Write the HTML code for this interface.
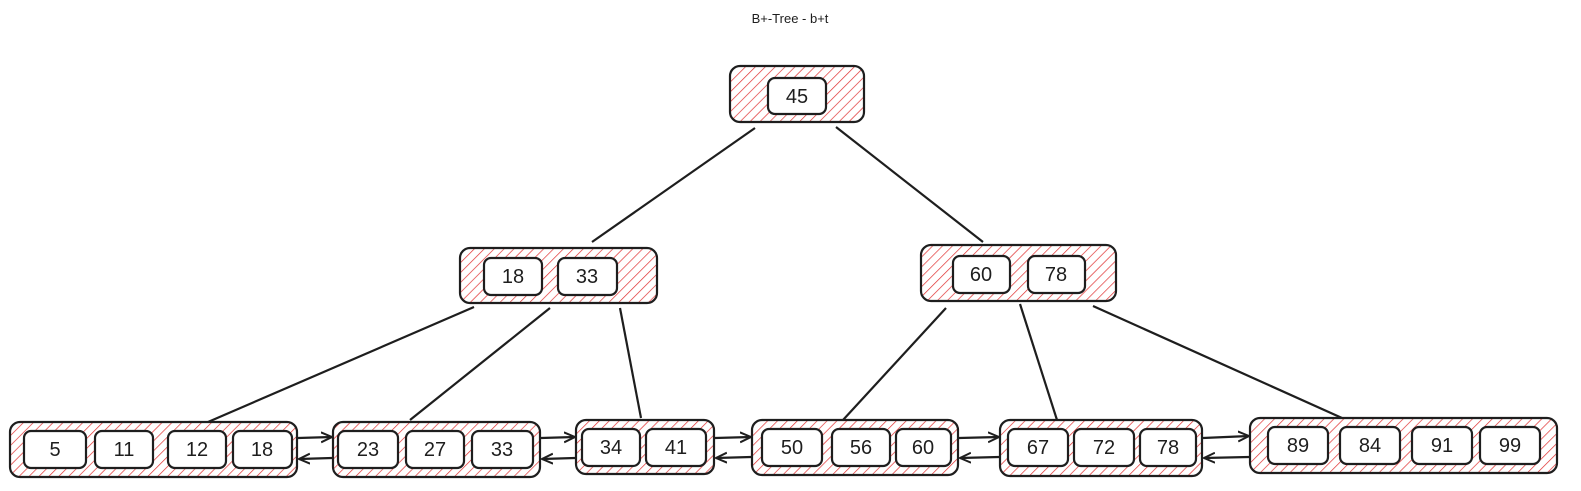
<!DOCTYPE html>
<html><head><style>body{margin:0;background:#fff}svg{display:block}text{font-family:"Liberation Sans",sans-serif;fill:#1e1e1e}</style></head>
<body>
<svg width="1581" height="491" viewBox="0 0 1581 491" xmlns="http://www.w3.org/2000/svg">
<defs>
<pattern id="h" width="7" height="7" patternUnits="userSpaceOnUse" patternTransform="rotate(45)">
<line x1="0" y1="0" x2="0" y2="7" stroke="#e03131" stroke-width="1.4"/>
</pattern>
<marker id="a" markerWidth="12" markerHeight="12" refX="11" refY="6" orient="auto" markerUnits="userSpaceOnUse">
<path d="M0,1 L11,6 L0,11" fill="none" stroke="#1e1e1e" stroke-width="2"/>
</marker>
</defs>
<text x="790" y="23" font-size="13" text-anchor="middle">B+-Tree - b+t</text>
<g stroke="#1e1e1e" stroke-width="2.2" fill="none">
<line x1="755" y1="128" x2="592" y2="242"/>
<line x1="836" y1="127" x2="983" y2="242"/>
<line x1="474" y1="307" x2="208" y2="422"/>
<line x1="550" y1="308" x2="410" y2="420"/>
<line x1="620" y1="308" x2="641" y2="418"/>
<line x1="946" y1="308" x2="843" y2="420"/>
<line x1="1020" y1="304" x2="1057" y2="420"/>
<line x1="1093" y1="306" x2="1342" y2="418"/>
<g marker-end="url(#a)">
<line x1="298" y1="438" x2="332" y2="437"/><line x1="332" y1="458" x2="299" y2="459"/>
<line x1="541" y1="438" x2="575" y2="437"/><line x1="575" y1="458" x2="542" y2="459"/>
<line x1="715" y1="438" x2="751" y2="437"/><line x1="751" y1="457" x2="716" y2="458"/>
<line x1="959" y1="438" x2="999" y2="437"/><line x1="999" y1="457" x2="960" y2="458"/>
<line x1="1203" y1="438" x2="1249" y2="436"/><line x1="1249" y1="457" x2="1204" y2="458"/>
</g>
</g>
<g stroke="#1e1e1e" stroke-width="2.2" fill="url(#h)">
<rect x="730" y="66" width="134" height="56" rx="10"/>
<rect x="460" y="248" width="197" height="55" rx="10"/>
<rect x="921" y="245" width="195" height="56" rx="10"/>
<rect x="10" y="422" width="287" height="55" rx="10"/>
<rect x="333" y="422" width="207" height="55" rx="10"/>
<rect x="576" y="420" width="138" height="54" rx="10"/>
<rect x="752" y="420" width="206" height="55" rx="10"/>
<rect x="1000" y="420" width="202" height="56" rx="10"/>
<rect x="1250" y="418" width="307" height="55" rx="10"/>
</g>
<g stroke="#1e1e1e" stroke-width="2.2" fill="#fff">
<rect x="768" y="78" width="58" height="36" rx="7"/>
<rect x="484" y="258" width="58" height="37" rx="7"/><rect x="558" y="258" width="59" height="37" rx="7"/>
<rect x="953" y="256" width="57" height="37" rx="7"/><rect x="1028" y="256" width="57" height="37" rx="7"/>
<rect x="24" y="431" width="62" height="37" rx="7"/><rect x="95" y="431" width="58" height="37" rx="7"/><rect x="168" y="431" width="58" height="37" rx="7"/><rect x="233" y="431" width="59" height="37" rx="7"/>
<rect x="338" y="431" width="60" height="37" rx="7"/><rect x="406" y="431" width="58" height="37" rx="7"/><rect x="472" y="431" width="61" height="37" rx="7"/>
<rect x="582" y="429" width="58" height="37" rx="7"/><rect x="646" y="429" width="60" height="37" rx="7"/>
<rect x="762" y="429" width="60" height="37" rx="7"/><rect x="832" y="429" width="58" height="37" rx="7"/><rect x="896" y="429" width="55" height="37" rx="7"/>
<rect x="1008" y="429" width="60" height="37" rx="7"/><rect x="1074" y="429" width="60" height="37" rx="7"/><rect x="1140" y="429" width="56" height="37" rx="7"/>
<rect x="1268" y="427" width="60" height="37" rx="7"/><rect x="1340" y="427" width="60" height="37" rx="7"/><rect x="1412" y="427" width="60" height="37" rx="7"/><rect x="1480" y="427" width="60" height="37" rx="7"/>
</g>
<g font-size="20" text-anchor="middle">
<text x="797" y="103">45</text>
<text x="513" y="283">18</text><text x="587" y="283">33</text>
<text x="981" y="281">60</text><text x="1056" y="281">78</text>
<text x="55" y="456">5</text><text x="124" y="456">11</text><text x="197" y="456">12</text><text x="262" y="456">18</text>
<text x="368" y="456">23</text><text x="435" y="456">27</text><text x="502" y="456">33</text>
<text x="611" y="454">34</text><text x="676" y="454">41</text>
<text x="792" y="454">50</text><text x="861" y="454">56</text><text x="923" y="454">60</text>
<text x="1038" y="454">67</text><text x="1104" y="454">72</text><text x="1168" y="454">78</text>
<text x="1298" y="452">89</text><text x="1370" y="452">84</text><text x="1442" y="452">91</text><text x="1510" y="452">99</text>
</g>
</svg>
</body></html>
